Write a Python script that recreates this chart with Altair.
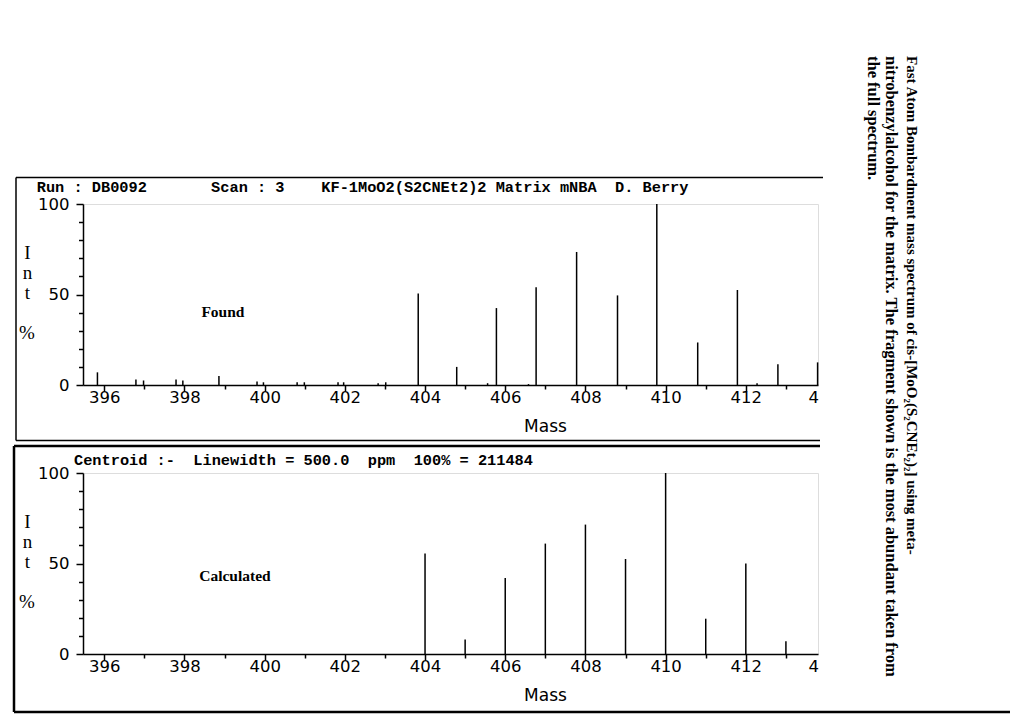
import altair as alt
import pandas as pd

# ---- data ----
found_mass = [395.83, 396.79, 396.98, 397.79, 397.96, 398.86, 399.81, 399.97,
              400.81, 400.99, 401.83, 401.97, 402.83, 403.02, 403.83, 404.79,
              405.56, 405.78, 406.58, 406.77, 407.78, 408.80, 409.78, 410.80,
              411.79, 412.28, 412.80, 413.79]
found_int = [7, 3, 2.5, 3, 2.5, 5, 2, 1.5,
             1.5, 1.5, 1.5, 1.5, 1, 1.5, 50.5, 10,
             1, 42.5, 0.5, 54, 73.5, 49.5, 100, 23.5,
             52.5, 1, 11.5, 12.5]
calc_mass = [404, 405, 406, 407, 408, 409, 410, 411, 412, 413]
calc_int = [55.5, 8, 42, 61, 71.5, 52.5, 100, 19.5, 50, 7]

x_ticks = list(range(396, 414))
y_ticks = list(range(0, 101, 10))
x_cut_label = ["4"]

header_top = "Run : DB0092       Scan : 3    KF-1MoO2(S2CNEt2)2 Matrix mNBA  D. Berry"
header_bottom = "Centroid :-  Linewidth = 500.0  ppm  100% = 211484"
panel_labels = ["Found", "Calculated"]
panel_label_pos = [(398.96, 40.5), (399.26, 42.9)]
y_title = ["I", "n", "t"]
y_title_unit = "%"
caption_lines = [
    "Fast Atom Bombardment mass spectrum of cis-[MoO\u2082(S\u2082CNEt\u2082)\u2082] using meta-",
    "nitrobenzylalcohol for the matrix. The fragment shown is the most abundant taken from",
    "the full spectrum.",
]

NB = "\u00a0"
W, H = 735, 181
XDOM = [395.47, 413.8]


def nb(s):
    return s.replace(" ", NB)


def one(text=""):
    return pd.DataFrame({"t": [text]})


xscale = alt.Scale(domain=XDOM, nice=False, zero=False)
yscale = alt.Scale(domain=[0, 100], nice=False)


def xaxis():
    return alt.Axis(
        values=x_ticks, format="d",
        labelExpr="datum.value % 2 == 0 ? datum.label : ''",
        title="Mass", titleX=462, titleY=41, titleBaseline="middle", titleAlign="center",
        titleFont="DejaVu Sans", titleFontSize=17, titleFontWeight="normal", titleColor="black",
        labelFont="DejaVu Sans", labelFontSize=16.5, labelColor="black", labelPadding=-1.5,
        labelFlush=False, labelOverlap=False,
        tickSize={"condition": {"test": "datum.value % 2 == 0", "value": 6}, "value": 4},
        tickColor="black", tickWidth=1.5, domainColor="black", domainWidth=1.5, grid=False,
    )


def yaxis():
    return alt.Axis(
        values=y_ticks, format="d",
        labelExpr="datum.value % 50 == 0 ? datum.label : ''",
        title=y_title, titleAngle=0, titleX=-56, titleY=48, titleAlign="center",
        titleBaseline="middle", titleLineHeight=20, titleFont="Liberation Serif",
        titleFontSize=19, titleFontWeight="normal", titleColor="black",
        labelFont="DejaVu Sans", labelFontSize=16.5, labelColor="black", labelPadding=7,
        labelFlush=False, labelOverlap=False,
        tickSize={"condition": {"test": "datum.value % 50 == 0", "value": 7}, "value": 4.5},
        tickColor="black", tickWidth=1.5, domainColor="black", domainWidth=1.5, grid=False,
    )


def rule(x, y, x2=None, y2=None, w=1.5):
    enc = dict(x=alt.value(x), y=alt.value(y))
    if x2 is not None:
        enc["x2"] = alt.value(x2)
    if y2 is not None:
        enc["y2"] = alt.value(y2)
    return alt.Chart(one()).mark_rule(color="black", strokeWidth=w).encode(**enc)


def panel(mass, inten, label, lpos, header, hx, hy, frame, fw):
    df = pd.DataFrame({"mass": mass, "int": inten, "base": [0] * len(mass)})
    peaks = alt.Chart(df).mark_rule(color="black", strokeWidth=1.5).encode(
        x=alt.X("mass:Q", scale=xscale, axis=xaxis()),
        y=alt.Y("int:Q", scale=yscale, axis=yaxis()),
        y2="base:Q",
    )
    lab = alt.Chart(pd.DataFrame({"t": [label], "mass": [lpos[0]], "int": [lpos[1]]})).mark_text(
        font="Liberation Serif", fontWeight="bold", fontSize=15.5, color="black"
    ).encode(x=alt.X("mass:Q", scale=xscale, axis=xaxis()),
             y=alt.Y("int:Q", scale=yscale, axis=yaxis()), text="t:N")
    unit = alt.Chart(one(y_title_unit)).mark_text(
        font="Liberation Serif", fontSize=19, color="black", align="center", baseline="middle"
    ).encode(x=alt.value(-56), y=alt.value(129), text="t:N")
    head = alt.Chart(one(nb(header))).mark_text(
        font="Liberation Mono", fontWeight="bold", fontSize=15.3, color="black",
        align="left", baseline="alphabetic"
    ).encode(x=alt.value(hx), y=alt.value(hy), text="t:N")
    cut = alt.Chart(one(x_cut_label[0])).mark_text(
        font="DejaVu Sans", fontSize=16.5, color="black", align="right", baseline="top"
    ).encode(x=alt.value(W + 1), y=alt.value(H + 4.5), text="t:N")
    (l, t, r1, r2, b) = frame
    lines = [
        rule(l, t, x2=r1, w=fw),
        rule(l, t, y2=b, w=fw),
        rule(l, b, x2=r2, w=fw),
    ]
    return alt.layer(peaks, lab, unit, head, cut, *lines).properties(width=W, height=H)


top = panel(found_mass, found_int, panel_labels[0], panel_label_pos[0],
            header_top, -46.3, -12.5, (-67, -26.5, 740, 737, 236.5), 1.5)

cap_x = [828.7, 808, 790]
cap_size = [15, 16.5, 16.5]
caps = [
    alt.Chart(one(line)).mark_text(
        font="Liberation Serif", fontWeight="bold", fontSize=fs, color="black",
        angle=90, align="left", baseline="middle"
    ).encode(x=alt.value(cx), y=alt.value(-148), text="t:N")
    for line, cx, fs in zip(caption_lines, cap_x, cap_size)
]
top = alt.layer(top, *caps)

bottom = panel(calc_mass, calc_int, panel_labels[1], panel_label_pos[1],
               header_bottom, -9, -8, (-69, -27, 737, 927, 239), 2.5)

chart = alt.vconcat(top, bottom, spacing=88, bounds="flush").properties(
    padding={"left": 4, "top": 47, "right": 2, "bottom": 0}
).configure_view(stroke=None).configure(background="white")

chart.save("out.html", embed_options={"renderer": "svg", "actions": False})
